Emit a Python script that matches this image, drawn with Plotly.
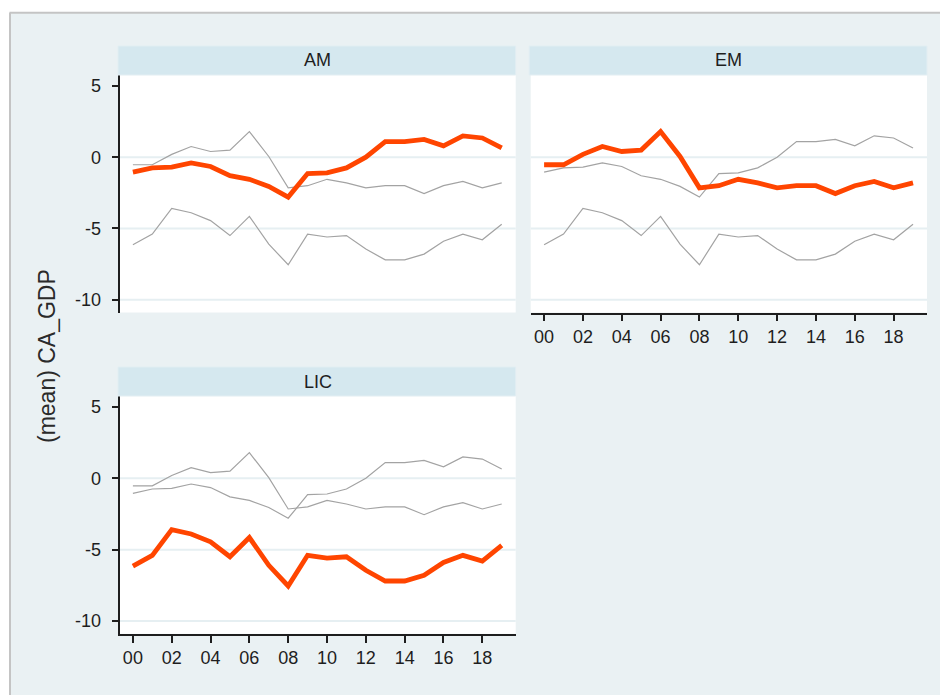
import plotly.graph_objects as go

years = list(range(0, 20))
tick_years = [0, 2, 4, 6, 8, 10, 12, 14, 16, 18]
tick_text = ["00", "02", "04", "06", "08", "10", "12", "14", "16", "18"]
y_ticks = [5, 0, -5, -10]
grid_vals = [0, -5, -10]

am = [-1.05, -0.75, -0.7, -0.4, -0.65, -1.3, -1.55, -2.05, -2.8, -1.15,
      -1.1, -0.75, 0.0, 1.1, 1.1, 1.25, 0.8, 1.5, 1.35, 0.65]
em = [-0.53, -0.53, 0.2, 0.75, 0.4, 0.5, 1.8, 0.05, -2.15, -2.0,
      -1.55, -1.8, -2.15, -2.0, -2.0, -2.55, -2.0, -1.7, -2.15, -1.8]
lic = [-6.15, -5.4, -3.6, -3.9, -4.45, -5.5, -4.15, -6.1, -7.55, -5.4,
       -5.6, -5.5, -6.45, -7.2, -7.2, -6.8, -5.9, -5.4, -5.8, -4.7]

groups = ["AM", "EM", "LIC"]
series = {"AM": am, "EM": em, "LIC": lic}

W, H = 948, 695
OFF = 8  # page body margin offset
BG = "#EAF1F3"
STRIP = "#D5E8EF"
ORANGE = "#FF4500"
GRAY = "#A3A3A3"
FONT = "Liberation Sans, Arial, sans-serif"
TXT = "#1e1e1e"

def px(x):
    return (x - OFF) / W

def py(y):
    return 1 - (y - OFF) / H

# panel pixel boxes in screen coords: (left, top, right, bottom)
panels = {
    "AM": (119.5, 75, 515.7, 312.5),
    "EM": (530.7, 75, 927, 312.5),
    "LIC": (119.5, 396, 515.7, 633.8),
}
axis_ids = {"AM": ("x", "y"), "EM": ("x2", "y2"), "LIC": ("x3", "y3")}

fig = go.Figure()

for g in groups:
    xa, ya = axis_ids[g]
    for other in groups:
        if other == g:
            continue
        fig.add_trace(go.Scatter(x=years, y=series[other], mode="lines",
                                 line=dict(color=GRAY, width=1.2),
                                 xaxis=xa, yaxis=ya, showlegend=False,
                                 hoverinfo="skip"))
    fig.add_trace(go.Scatter(x=years, y=series[g], mode="lines",
                             line=dict(color=ORANGE, width=4.8),
                             xaxis=xa, yaxis=ya, showlegend=False))

yrange = [-10.9, 5.77]
xrange = [-0.69, 19.72]

layout = dict(width=W, height=H, margin=dict(l=0, r=0, t=0, b=0),
              paper_bgcolor=BG, plot_bgcolor="white", showlegend=False,
              font=dict(family=FONT, color=TXT))

def xaxis_cfg(g, show):
    l, t, r, b = panels[g]
    d = dict(domain=[px(l), px(r)], range=xrange, showgrid=False,
             zeroline=False, automargin=False, fixedrange=True)
    if show:
        d.update(showline=True, linecolor=TXT, linewidth=1.6,
                 ticks="outside", ticklen=7, tickwidth=1.6, tickcolor=TXT,
                 tickvals=tick_years, ticktext=tick_text,
                 tickfont=dict(size=18, family=FONT, color=TXT))
    else:
        d.update(showline=False, showticklabels=False, ticks="")
    return d

def yaxis_cfg(g, show):
    l, t, r, b = panels[g]
    d = dict(domain=[py(b), py(t)], range=yrange, showgrid=False,
             zeroline=False, automargin=False, fixedrange=True)
    if show:
        d.update(showline=True, linecolor=TXT, linewidth=1.6,
                 ticks="outside", ticklen=6, tickwidth=1.6, tickcolor=TXT,
                 tickvals=y_ticks, ticktext=[str(v) for v in y_ticks],
                 tickfont=dict(size=18, family=FONT, color=TXT),
                 ticklabelstandoff=7)
    else:
        d.update(showline=False, showticklabels=False, ticks="")
    return d

layout["xaxis"] = dict(xaxis_cfg("AM", False), anchor="y")
layout["yaxis"] = dict(yaxis_cfg("AM", True), anchor="x")
layout["xaxis2"] = dict(xaxis_cfg("EM", True), anchor="y2")
layout["yaxis2"] = dict(yaxis_cfg("EM", False), anchor="x2")
layout["xaxis3"] = dict(xaxis_cfg("LIC", True), anchor="y3")
layout["yaxis3"] = dict(yaxis_cfg("LIC", True), anchor="x3")

shapes = []
annotations = []
# white outer margin (top band and left band)
shapes.append(dict(type="rect", xref="paper", yref="paper", x0=-0.1, x1=1.1,
                   y0=py(12.5), y1=1.1, fillcolor="white", line_width=0, layer="below"))
shapes.append(dict(type="rect", xref="paper", yref="paper", x0=-0.1, x1=px(9.5),
                   y0=-0.1, y1=1.1, fillcolor="white", line_width=0, layer="below"))
# frame border
shapes.append(dict(type="line", xref="paper", yref="paper", x0=px(9.5), x1=1.1,
                   y0=py(12.8), y1=py(12.8), line=dict(color="#C4C4C4", width=2)))
shapes.append(dict(type="line", xref="paper", yref="paper", x0=px(10), x1=px(10),
                   y0=-0.1, y1=py(12.8), line=dict(color="#C4C4C4", width=2)))

for g in groups:
    l, t, r, b = panels[g]
    xa, ya = axis_ids[g]
    shapes.append(dict(type="rect", xref="paper", yref="paper",
                       x0=px(l - 1.5), x1=px(r), y0=py(t), y1=py(t - 29),
                       fillcolor=STRIP, line=dict(color="#E2EEF2", width=1)))
    annotations.append(dict(text=g, xref="paper", yref="paper",
                            x=px((l + r) / 2), y=py(t - 14.5), showarrow=False,
                            xanchor="center", yanchor="middle",
                            font=dict(size=18, family=FONT, color=TXT)))
    for v in grid_vals:
        shapes.append(dict(type="line", xref=xa + " domain", yref=ya,
                           x0=0, x1=1, y0=v, y1=v, layer="below",
                           line=dict(color="#E6EFF2", width=2)))

annotations.append(dict(text="(mean) CA_GDP", xref="paper", yref="paper",
                        x=px(47), y=py(356), showarrow=False, textangle=-90,
                        xanchor="center", yanchor="middle",
                        font=dict(size=23, family=FONT, color="#2a2a2a")))

layout["shapes"] = shapes
layout["annotations"] = annotations
fig.update_layout(**layout)
fig.write_html("out.html")
